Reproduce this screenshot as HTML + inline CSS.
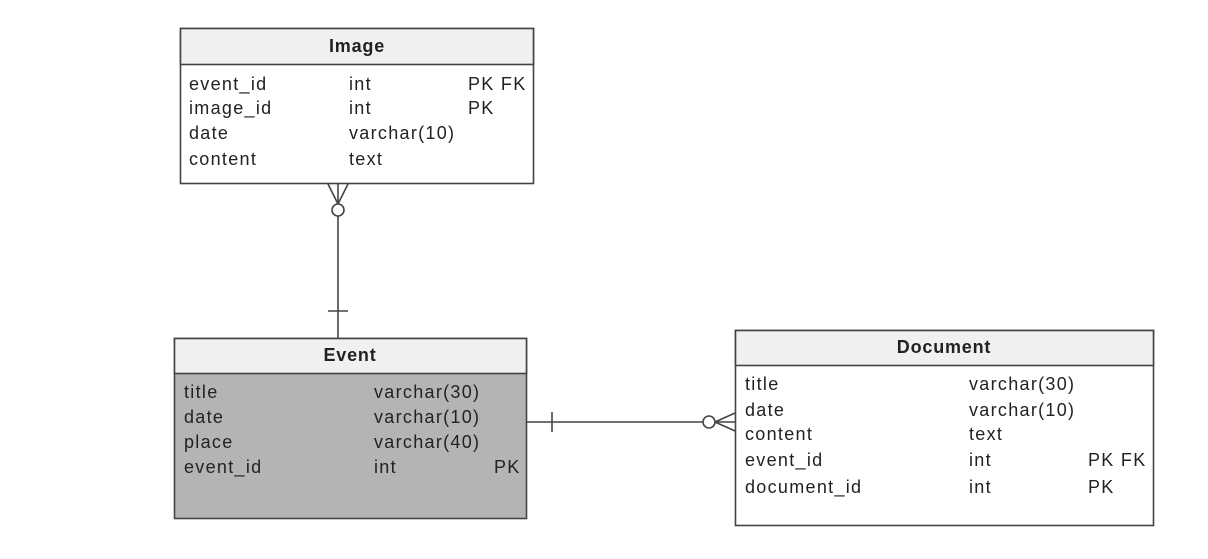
<!DOCTYPE html>
<html><head><meta charset="utf-8"><style>
html,body{margin:0;padding:0;background:#fff;}
svg{display:block;}
text{font-family:"Liberation Sans",Arial,sans-serif;font-size:18px;letter-spacing:1.3px;fill:#222;dominant-baseline:central;}
.h{font-weight:bold;text-anchor:middle;letter-spacing:0.8px;}
</style></head><body>
<svg width="1208" height="559" viewBox="0 0 1208 559" xmlns="http://www.w3.org/2000/svg">
<g stroke="#444" stroke-width="1.6" fill="none">
<rect x="180.5" y="28.5" width="353" height="155" fill="#fff"/>
<rect x="180.5" y="28.5" width="353" height="36" fill="#f0f0f0"/>
<rect x="174.5" y="338.5" width="352" height="180" fill="#b4b4b4"/>
<rect x="174.5" y="338.5" width="352" height="35" fill="#f0f0f0"/>
<rect x="735.5" y="330.5" width="418" height="195" fill="#fff"/>
<rect x="735.5" y="330.5" width="418" height="35" fill="#f0f0f0"/>
<line x1="338" y1="216" x2="338" y2="338"/>
<line x1="328" y1="311" x2="348" y2="311"/>
<circle cx="338" cy="210" r="6" fill="#fff"/>
<line x1="328" y1="184" x2="338" y2="204"/>
<line x1="348" y1="184" x2="338" y2="204"/>
<line x1="338" y1="184" x2="338" y2="204"/>
<line x1="527" y1="422" x2="703" y2="422"/>
<line x1="552" y1="412" x2="552" y2="432"/>
<circle cx="709" cy="422" r="6" fill="#fff"/>
<line x1="715" y1="422" x2="735" y2="413"/>
<line x1="715" y1="422" x2="735" y2="431"/>
<line x1="715" y1="422" x2="735" y2="422"/>
</g>
<text class="h" x="357" y="46">Image</text>
<text x="189" y="84">event_id</text><text x="349" y="84">int</text><text x="468" y="84">PK FK</text>
<text x="189" y="108">image_id</text><text x="349" y="108">int</text><text x="468" y="108">PK</text>
<text x="189" y="133">date</text><text x="349" y="133">varchar(10)</text>
<text x="189" y="159">content</text><text x="349" y="159">text</text>

<text class="h" x="350" y="355">Event</text>
<text x="184" y="392">title</text><text x="374" y="392">varchar(30)</text>
<text x="184" y="417">date</text><text x="374" y="417">varchar(10)</text>
<text x="184" y="442">place</text><text x="374" y="442">varchar(40)</text>
<text x="184" y="467">event_id</text><text x="374" y="467">int</text><text x="494" y="467">PK</text>

<text class="h" x="944" y="347">Document</text>
<text x="745" y="384">title</text><text x="969" y="384">varchar(30)</text>
<text x="745" y="410">date</text><text x="969" y="410">varchar(10)</text>
<text x="745" y="434">content</text><text x="969" y="434">text</text>
<text x="745" y="460">event_id</text><text x="969" y="460">int</text><text x="1088" y="460">PK FK</text>
<text x="745" y="487">document_id</text><text x="969" y="487">int</text><text x="1088" y="487">PK</text>
</svg>
</body></html>
